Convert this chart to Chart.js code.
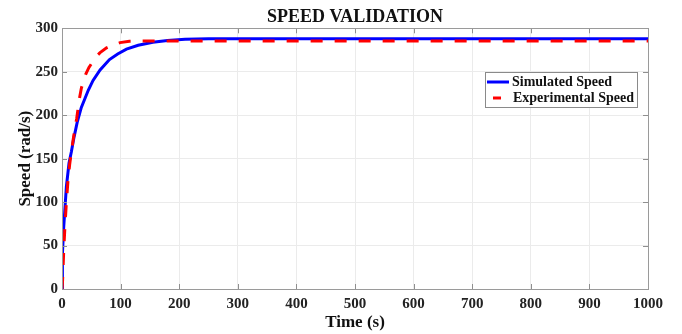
<!DOCTYPE html>
<html>
<head>
<meta charset="utf-8">
<script src="https://cdn.jsdelivr.net/npm/chart.js@4.4.1/dist/chart.umd.min.js"></script>
<style>
  html, body { margin: 0; padding: 0; background: #fff; }
</style>
</head>
<body>
<canvas id="speedChart" width="682" height="334"></canvas>
<script>
// data
const simTime  = [0, 0.7, 3, 7.5, 12, 16, 20, 26, 33, 39, 45, 53, 65, 81, 95, 110, 130, 155, 180, 210, 250, 300, 400, 500, 600, 700, 800, 900, 1000];
const simSpeed = [0, 40, 72, 118, 145, 158, 173, 192, 209, 219, 229, 240, 252, 264, 270.5, 276, 280.5, 284, 286, 287.3, 288, 288, 288, 288, 288, 288, 288, 288, 288];

const expTime  = [0, 1, 3, 5, 7.5, 10, 13, 16, 20, 25, 30, 33, 36, 41, 46, 50, 56, 65, 76, 88, 99, 115, 130, 160, 200, 300, 400, 500, 600, 700, 800, 900, 1000];
const expSpeed = [0, 10, 45, 72, 100, 123, 143, 158, 176, 196, 220, 231, 238, 248, 255, 259, 266, 272, 277.5, 281, 283.5, 285, 285.3, 285.5, 285.5, 285.5, 285.5, 285.5, 285.5, 285.5, 285.5, 285.5, 285.5];

const xTicks = [0, 100, 200, 300, 400, 500, 600, 700, 800, 900, 1000];
const yTicks = [0, 50, 100, 150, 200, 250, 300];

const seriesNames = ["Simulated Speed", "Experimental Speed"];
const chartTitle = "SPEED VALIDATION";

const serif = "'Liberation Serif', 'Times New Roman', serif";

function toPoints(xs, ys) {
    return xs.map((x, i) => ({ x: x, y: ys[i] }));
}

// title centred over the axes (MATLAB style), not over the whole canvas
const titlePlugin = {
    id: "axesTitle",
    afterDraw(chart) {
        const ctx = chart.ctx;
        const a = chart.chartArea;
        ctx.save();
        ctx.fillStyle = "#111";
        ctx.font = "bold 18px " + serif;
        ctx.textAlign = "center";
        ctx.textBaseline = "middle";
        ctx.fillText(chartTitle, (a.left + a.right) / 2, 17.5);
        ctx.restore();
    }
};

// box round the axes + small inward ticks like MATLAB
const boxPlugin = {
    id: "boxPlugin",
    afterDatasetsDraw(chart) {
        const ctx = chart.ctx;
        const a = chart.chartArea;
        const xs = chart.scales.x, ys = chart.scales.y;
        ctx.save();
        ctx.strokeStyle = "#8f8f8f";
        ctx.lineWidth = 1;
        ctx.beginPath();
        xTicks.forEach(v => {
            const px = Math.round(xs.getPixelForValue(v)) + 0.5;
            ctx.moveTo(px, a.bottom); ctx.lineTo(px, a.bottom - 5);
            ctx.moveTo(px, a.top); ctx.lineTo(px, a.top + 5);
        });
        yTicks.forEach(v => {
            const py = Math.round(ys.getPixelForValue(v)) + 0.5;
            ctx.moveTo(a.left, py); ctx.lineTo(a.left + 5, py);
            ctx.moveTo(a.right, py); ctx.lineTo(a.right - 5, py);
        });
        ctx.stroke();
        ctx.strokeStyle = "#9a9a9a";
        ctx.strokeRect(Math.round(a.left) + 0.5, Math.round(a.top) + 0.5,
            Math.round(a.right - a.left), Math.round(a.bottom - a.top));
        ctx.restore();
    }
};

// legend drawn inside the plot area, top right
const legendPlugin = {
    id: "insideLegend",
    afterDraw(chart) {
        const ctx = chart.ctx;
        const bx = 485, by = 72, bw = 152, bh = 35;
        ctx.save();
        ctx.fillStyle = "#fff";
        ctx.fillRect(bx, by, bw, bh);
        ctx.strokeStyle = "#8a8a8a";
        ctx.lineWidth = 1;
        ctx.strokeRect(bx + 0.5, by + 0.5, bw, bh);

        ctx.lineWidth = 3;
        ctx.strokeStyle = "#0000ff";
        ctx.beginPath();
        ctx.moveTo(487, 82); ctx.lineTo(509, 82);
        ctx.stroke();

        ctx.strokeStyle = "#ff0000";
        ctx.beginPath();
        ctx.moveTo(493, 98); ctx.lineTo(501, 98);
        ctx.stroke();

        ctx.fillStyle = "#111";
        ctx.font = "bold 14px " + serif;
        ctx.textBaseline = "middle";
        ctx.fillText(seriesNames[0], 512, 82);
        ctx.fillText(seriesNames[1], 513, 98);
        ctx.restore();
    }
};

const ctx = document.getElementById("speedChart").getContext("2d");

const speedChart = new Chart(ctx, {
    type: "line",
    data: {
        datasets: [
            {
                label: seriesNames[0],
                data: toPoints(simTime, simSpeed),
                borderColor: "#0000ff",
                borderWidth: 3,
                pointRadius: 0,
                fill: false,
                tension: 0,
                order: 2
            },
            {
                label: seriesNames[1],
                data: toPoints(expTime, expSpeed),
                borderColor: "#ff0000",
                borderWidth: 3,
                borderDash: [12, 12],
                pointRadius: 0,
                fill: false,
                tension: 0,
                order: 1
            }
        ]
    },
    options: {
        responsive: false,
        animation: false,
        layout: { padding: { left: 0, right: 34, top: 28.3, bottom: 0 } },
        plugins: {
            legend: { display: false },
            tooltip: { enabled: false },
            title: { display: false }
        },
        scales: {
            x: {
                type: "linear",
                min: 0,
                max: 1000,
                afterFit(scale) { scale.height = 45; },
                afterBuildTicks(scale) { scale.ticks = xTicks.map(v => ({ value: v })); },
                ticks: {
                    color: "#222",
                    font: { family: serif, size: 15, weight: "bold" },
                    padding: 6,
                    maxRotation: 0,
                    callback: v => String(v)
                },
                grid: { color: "#ebebeb", drawTicks: false },
                border: { display: false },
                title: {
                    display: true,
                    text: "Time (s)",
                    color: "#111",
                    font: { family: serif, size: 17, weight: "bold" },
                    padding: { top: 2, bottom: 1 }
                }
            },
            y: {
                min: 0,
                max: 300,
                afterFit(scale) { scale.width = 62; },
                afterBuildTicks(scale) { scale.ticks = yTicks.map(v => ({ value: v })); },
                ticks: {
                    color: "#222",
                    font: { family: serif, size: 15, weight: "bold" },
                    padding: 4,
                    callback: v => String(v)
                },
                grid: { color: "#ebebeb", drawTicks: false },
                border: { display: false },
                title: {
                    display: true,
                    text: "Speed (rad/s)",
                    color: "#111",
                    font: { family: serif, size: 17, weight: "bold" },
                    padding: { top: 15, bottom: 0 }
                }
            }
        }
    },
    plugins: [boxPlugin, legendPlugin, titlePlugin]
});
</script>
</body>
</html>
